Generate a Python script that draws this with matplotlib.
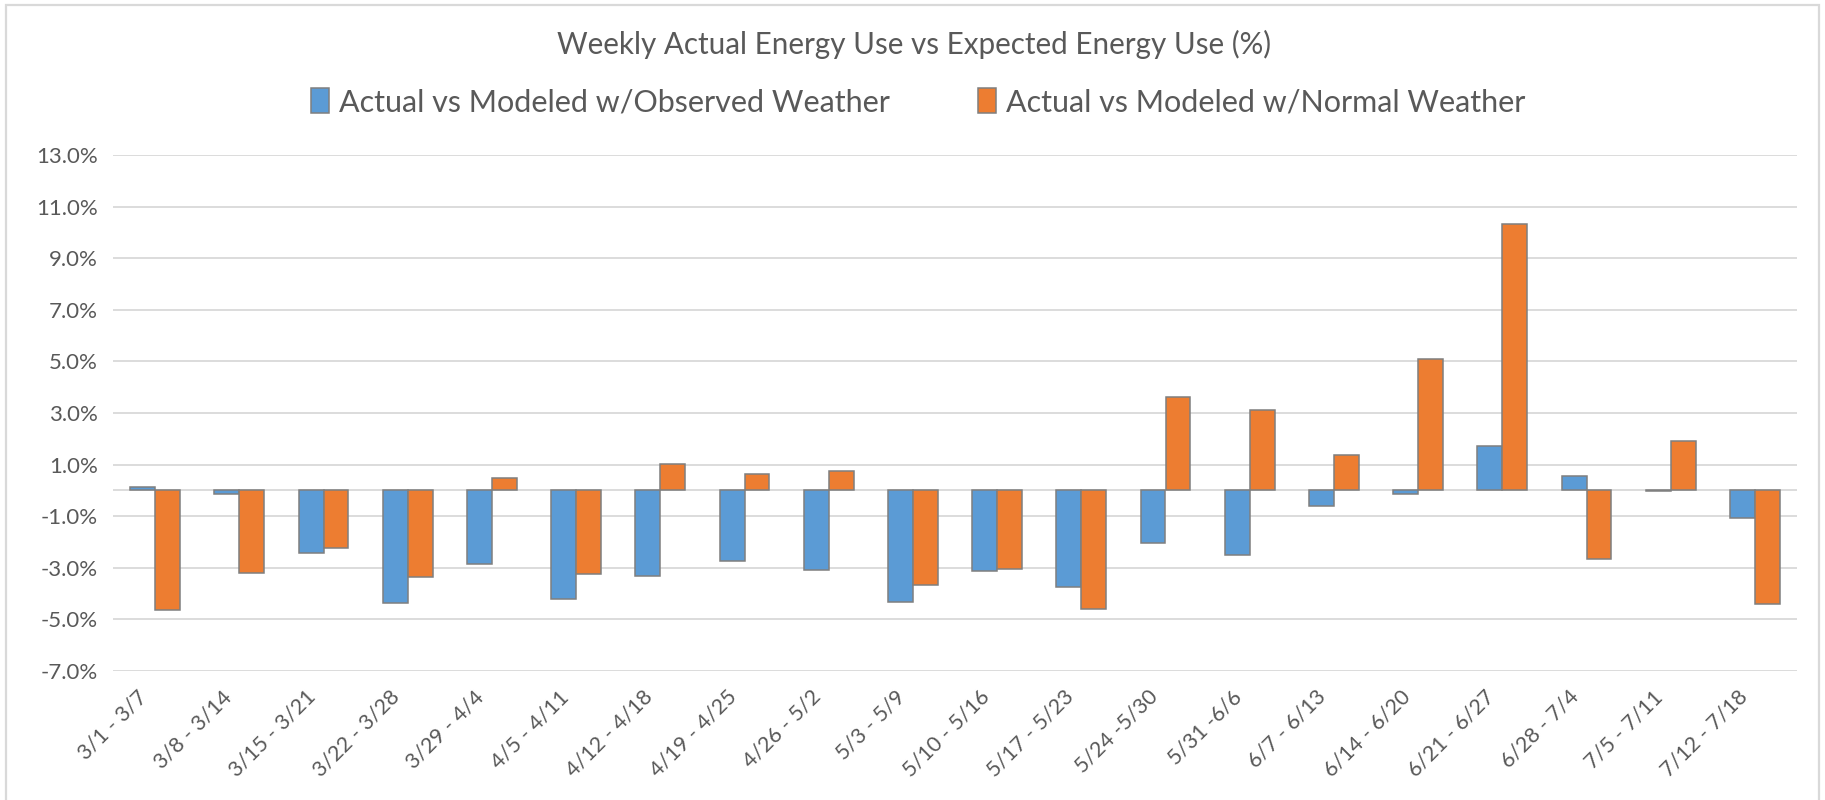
import matplotlib
matplotlib.use("Agg")
import matplotlib.pyplot as plt
import matplotlib.transforms as mtransforms
from matplotlib.patches import Patch, Rectangle
from matplotlib.ticker import FuncFormatter
import numpy as np

weeks = [
    "3/1 - 3/7", "3/8 - 3/14", "3/15 - 3/21", "3/22 - 3/28", "3/29 - 4/4",
    "4/5 - 4/11", "4/12 - 4/18", "4/19 - 4/25", "4/26 - 5/2", "5/3 - 5/9",
    "5/10 - 5/16", "5/17 - 5/23", "5/24 -5/30", "5/31 -6/6", "6/7 - 6/13",
    "6/14 - 6/20", "6/21 - 6/27", "6/28 - 7/4", "7/5 - 7/11", "7/12 - 7/18",
]
# percent values
observed = [0.12, -0.13, -2.41, -4.37, -2.85, -4.19, -3.33, -2.72, -3.07, -4.34,
            -3.14, -3.75, -2.03, -2.49, -0.59, -0.13, 1.74, 0.55, -0.03, -1.06]
normal = [-4.62, -3.19, -2.25, -3.37, 0.50, -3.23, 1.01, 0.62, 0.77, -3.66,
          -3.06, -4.58, 3.62, 3.10, 1.39, 5.10, 10.32, -2.65, 1.90, -4.39]

title = "Weekly Actual Energy Use vs Expected Energy Use (%)"
series_names = ["Actual vs Modeled w/Observed Weather", "Actual vs Modeled w/Normal Weather"]

BLUE = "#5B9BD5"
ORANGE = "#ED7D31"
EDGE = "#7F7F7F"
GRID = "#D9D9D9"
TEXT = "#595959"

plt.rcParams["font.family"] = ["Lato", "DejaVu Sans"]

W, H = 1825, 800
fig = plt.figure(figsize=(W / 100, H / 100), dpi=100)
fig.patch.set_facecolor("white")

# plot area in pixels: left 113, right 1797, top 155, bottom 671
ax = fig.add_axes([113 / W, 1 - 671 / H, (1797 - 113) / W, (671 - 155) / H])

x = np.arange(len(weeks))
bw = 0.295
ax.bar(x - bw / 2, observed, bw, color=BLUE, edgecolor=EDGE, linewidth=1.1, zorder=3)
ax.bar(x + bw / 2, normal, bw, color=ORANGE, edgecolor=EDGE, linewidth=1.1, zorder=3)

ax.set_xlim(-0.5, len(weeks) - 0.5)
ax.set_ylim(-7, 13)
ax.set_yticks(np.arange(-7, 14, 2))
ax.yaxis.set_major_formatter(FuncFormatter(lambda v, p: f"{v:.1f}%"))
ax.grid(axis="y", color=GRID, linewidth=1.3, zorder=0)
ax.axhline(0, color=GRID, linewidth=1.3, zorder=2)
for s in ax.spines.values():
    s.set_visible(False)

ax.tick_params(axis="y", length=0, pad=11, labelsize=16, labelcolor=TEXT)
ax.tick_params(axis="x", length=0, pad=17, labelsize=15.5, labelcolor=TEXT)
ax.set_xticks(x)
ax.set_xticklabels(weeks, rotation=45, ha="right", va="top", rotation_mode="anchor")
# nudge the slanted labels left/up so their ends sit like Excel's
shift = mtransforms.ScaledTranslation(-0.18, 0.08, fig.dpi_scale_trans)
for lbl in ax.get_xticklabels():
    lbl.set_transform(lbl.get_transform() + shift)

fig.text(914 / W, 1 - 44 / H, title, ha="center", va="center",
         fontsize=21.3, color=TEXT)

handles = [Patch(facecolor=BLUE, edgecolor=EDGE, linewidth=1.1),
           Patch(facecolor=ORANGE, edgecolor=EDGE, linewidth=1.1)]
fig.legend(handles, series_names, loc="center", bbox_to_anchor=(918 / W, 1 - 102 / H),
           ncol=2, frameon=False, fontsize=22, labelcolor=TEXT,
           handlelength=0.6, handleheight=0.9, handletextpad=0.3, columnspacing=2.9)

# light chart border (bottom edge is cut off in the original)
fig.add_artist(Rectangle((6 / W, -0.05), (1819 - 6) / W, 1.05 - 5 / H,
                         transform=fig.transFigure, fill=False,
                         edgecolor=GRID, linewidth=1.6))

fig.savefig("out.png", dpi=100)
